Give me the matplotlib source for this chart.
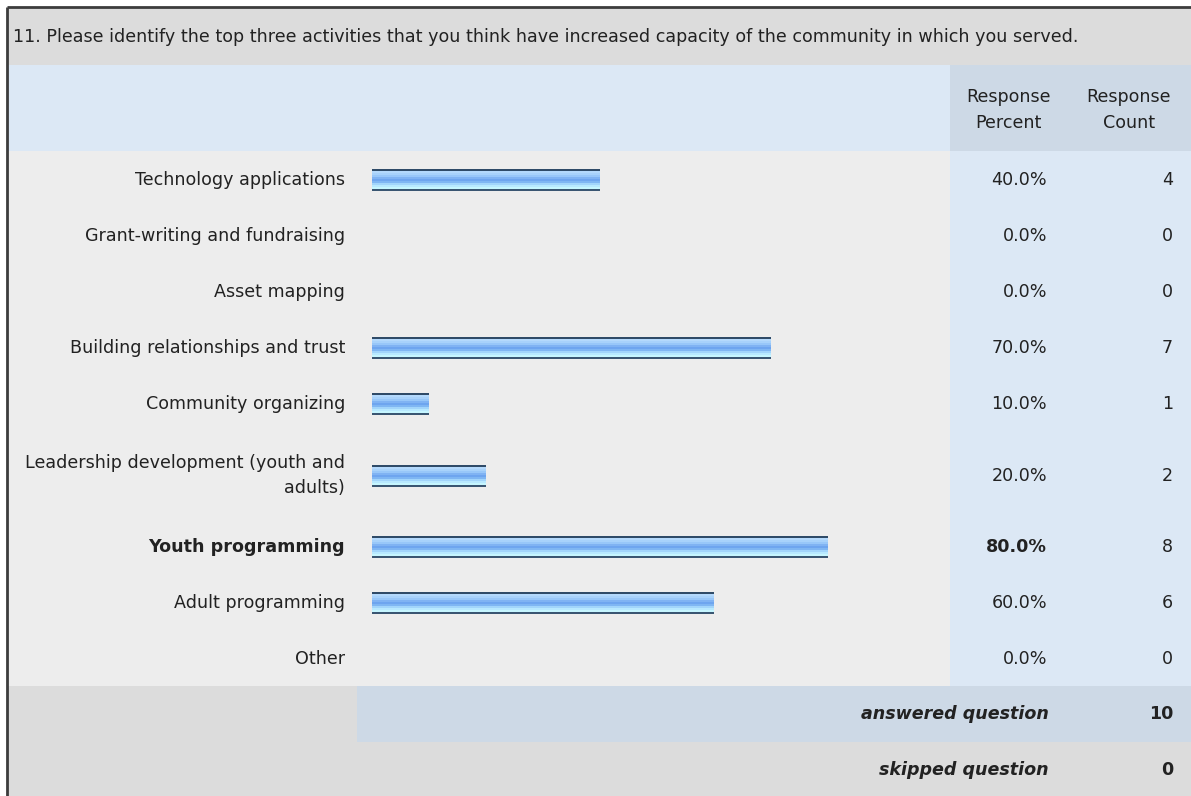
import matplotlib
matplotlib.use("Agg")
import matplotlib.pyplot as plt
import numpy as np
from matplotlib.colors import to_rgb

# survey data
question = ("11. Please identify the top three activities that you think have "
            "increased capacity of the community in which you served.")
labels = ["Technology applications", "Grant-writing and fundraising", "Asset mapping",
          "Building relationships and trust", "Community organizing",
          "Leadership development (youth and\nadults)", "Youth programming",
          "Adult programming", "Other"]
percents = [40.0, 0.0, 0.0, 70.0, 10.0, 20.0, 80.0, 60.0, 0.0]
counts = [4, 0, 0, 7, 1, 2, 8, 6, 0]
answered = 10
skipped = 0
bold_row = "Youth programming"

W, H = 1191, 796
plt.rcParams['font.family'] = ['DejaVu Sans']
FS = 12.6
TXT = "#222222"

fig = plt.figure(figsize=(W / 100, H / 100), dpi=100)
bg = fig.add_axes([0, 0, 1, 1])
bg.set_xlim(0, W)
bg.set_ylim(H, 0)
bg.axis("off")

def box(x0, y0, x1, y1, c):
    bg.add_patch(plt.Rectangle((x0, y0), x1 - x0, y1 - y0, color=c, lw=0))

# row layout (pixels)
top_data, bot_data = 151, 686
heights = [56.1] * len(labels)
heights[5] = 86
ys = []
y = top_data
for h in heights:
    ys.append(y + h / 2 + 1)
    y += h

col = 950
box(7, 8, W, 65, "#dcdcdc")
box(7, 65, col, 151, "#dce8f5")
box(col, 65, W, 151, "#cdd9e6")
box(7, 151, col, bot_data, "#ededed")
box(col, 151, W, bot_data, "#dce8f5")
box(7, bot_data, W, 742, "#dcdcdc")
box(357, bot_data, W, 742, "#cdd9e6")
box(7, 742, W, H, "#dcdcdc")
bg.plot([7, W], [7, 7], color="#3c3c3c", lw=2, solid_capstyle="butt")
bg.plot([7, 7], [7, H], color="#3c3c3c", lw=2, solid_capstyle="butt")

bg.text(13, 37, question, fontsize=FS, color=TXT, va="center", ha="left")
bg.text(1008, 110, "Response\nPercent", fontsize=FS, color=TXT, ha="center", va="center",
        linespacing=1.5)
bg.text(1129, 110, "Response\nCount", fontsize=FS, color=TXT, ha="center", va="center",
        linespacing=1.5)

for lab, p, c, yc in zip(labels, percents, counts, ys):
    w = "bold" if lab == bold_row else "normal"
    bg.text(345, yc, lab, fontsize=FS, color=TXT, ha="right", va="center",
            linespacing=1.5, fontweight=w)
    bg.text(1047, yc, f"{p:.1f}%", fontsize=FS, color=TXT, ha="right", va="center",
            fontweight=w)
    bg.text(1173, yc, str(c), fontsize=FS, color=TXT, ha="right", va="center")

bg.text(1049, 714, "answered question", fontsize=FS, color=TXT, ha="right", va="center",
        style="italic", fontweight="bold")
bg.text(1173, 714, str(answered), fontsize=FS, color=TXT, ha="right", va="center",
        fontweight="bold")
bg.text(1049, 770, "skipped question", fontsize=FS, color=TXT, ha="right", va="center",
        style="italic", fontweight="bold")
bg.text(1173, 770, str(skipped), fontsize=FS, color=TXT, ha="right", va="center",
        fontweight="bold")

# bar axes: 0..100 % over 570 px
ax = fig.add_axes([372 / W, 1 - bot_data / H, 570 / W, (bot_data - top_data) / H])
ax.set_xlim(0, 100)
ax.set_ylim(bot_data, top_data)
ax.axis("off")

stops = ["#2f4b68", "#b4d9fc", "#a8d2fb", "#98c7f9", "#80b3f3", "#6ea5ef",
         "#7fb6f3", "#a2d5fb", "#b8e9ff", "#c6f6ff", "#3a5672"]
grad = np.array([to_rgb(c) for c in stops])[:, None, :]
bar_h = 22
for p, yc in zip(percents, ys):
    if p > 0:
        ax.imshow(grad, extent=(0, p, yc + bar_h / 2, yc - bar_h / 2), aspect="auto",
                  interpolation="nearest", zorder=2)
ax.set_xlim(0, 100)
ax.set_ylim(bot_data, top_data)

fig.savefig("out.png", dpi=100)
